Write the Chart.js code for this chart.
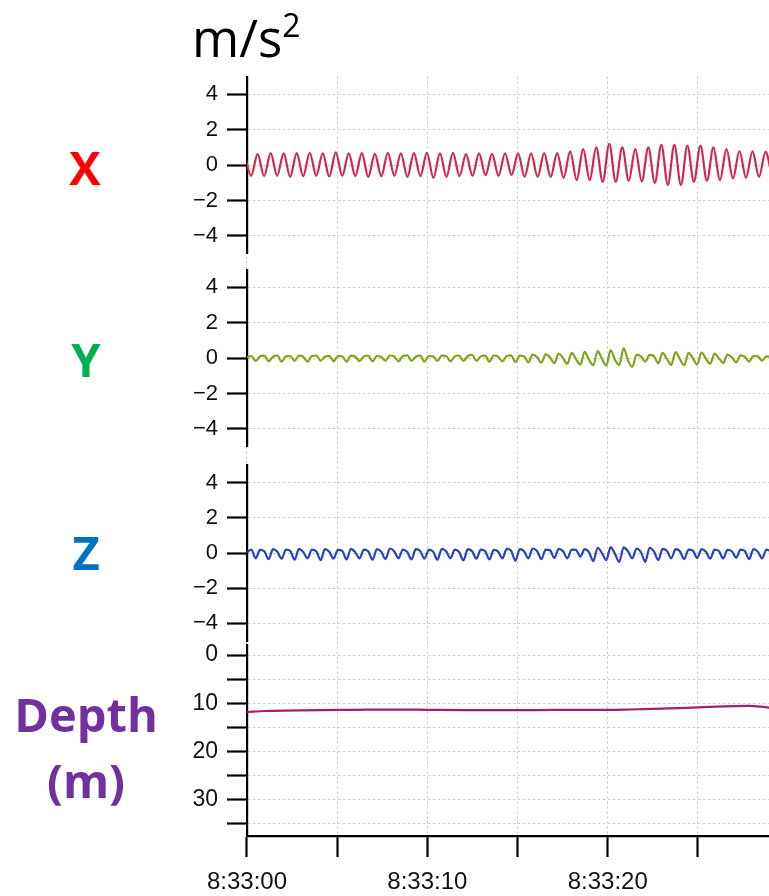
<!DOCTYPE html>
<html>
<head>
<meta charset="utf-8">
<script src="https://cdn.jsdelivr.net/npm/chart.js@4"></script>
<style>
  body { margin: 0; background: #fff; }
  .wrap { position: relative; width: 769px; height: 896px; overflow: hidden; background: #fff; }
  .chart-box { position: absolute; left: 0; top: 0; width: 769px; height: 896px; }
  .label { position: absolute; transform: translate(-50%, -50%); font-family: "Open Sans", "Noto Sans", sans-serif; font-weight: 700; font-size: 47px; line-height: 1; white-space: nowrap; }
  .unit { position: absolute; left: 192px; top: 12px; font-family: "Open Sans", "Noto Sans", sans-serif; font-size: 51px; line-height: 1; color: #000; }
  .unit sup { font-size: 32px; vertical-align: 20px; line-height: 0; }
</style>
</head>
<body>
<div class="wrap">
  <div class="chart-box"><canvas id="myChart"></canvas></div>
  <div class="unit">m/s<sup>2</sup></div>
  <div class="label" style="left:85px;top:167px;color:#ff0000">X</div>
  <div class="label" style="left:86px;top:359px;color:#00b050">Y</div>
  <div class="label" style="left:86px;top:552px;color:#0070c0">Z</div>
  <div class="label" style="left:86px;top:714px;color:#7030a0">Depth</div>
  <div class="label" style="left:86px;top:780px;color:#7030a0">(m)</div>
</div>
<script>
// seconds after 8:33:00
const timeTicks = [0, 5, 10, 15, 20, 25];
const timeLabels = ['8:33:00', '', '8:33:10', '', '8:33:20', ''];
const accTicks = [-4, -2, 0, 2, 4];
const accTickLabels = ['\u22124', '\u22122', '0', '2', '4'];
const depthTicks = [0, 5, 10, 15, 20, 25, 30, 35];
const depthTickLabels = ['0', '', '10', '', '20', '', '30', ''];

// X axis sway: crest / trough every half cycle
const xStart = -0.133;
const xStep = 0.361;
const xAcc = [
    0.60, -0.60, 0.62, -0.62, 0.68, -0.60, 0.66, -0.66, 0.68, -0.62,
    0.70, -0.60, 0.66, -0.64, 0.72, -0.60, 0.66, -0.62, 0.68, -0.66,
    0.64, -0.62, 0.70, -0.60, 0.66, -0.66, 0.68, -0.62, 0.70, -0.72,
    0.66, -0.66, 0.70, -0.62, 0.62, -0.60, 0.66, -0.56, 0.64, -0.60,
    0.66, -0.56, 0.66, -0.66, 0.66, -0.66, 0.68, -0.66, 0.68, -0.72,
    0.78, -0.85, 0.90, -0.85, 1.00, -0.94, 1.20, -0.94, 1.00, -0.88,
    0.90, -0.92, 1.00, -1.00, 1.15, -1.12, 1.15, -1.12, 1.10, -0.94,
    1.10, -0.88, 1.00, -0.85, 0.90, -0.75, 0.80, -0.72, 0.78, -0.66,
    0.75, -0.66
];

// Y and Z read every 0.24 s
const yzStep = 0.24;
const yAcc = [
    0.05, 0.12, -0.15, 0.10, 0.14, -0.18, 0.08, 0.15, -0.20,
    0.10, 0.12, -0.16, 0.14, 0.08, -0.20, 0.12, 0.15, -0.14,
    0.08, 0.13, -0.18, 0.12, 0.10, -0.20, 0.14, 0.08, -0.16,
    0.10, 0.14, -0.18, 0.12, 0.06, -0.14, 0.15, 0.10, -0.18,
    0.12, 0.16, -0.15, 0.08, 0.14, -0.20, 0.12, 0.10, -0.16,
    0.14, 0.12, -0.18, 0.10, 0.15, -0.16, 0.12, 0.18, -0.15,
    0.10, 0.14, -0.20, 0.15, 0.08, -0.18, 0.12, 0.16, -0.22,
    0.14, 0.10, -0.24, 0.20, 0.06, -0.26, 0.22, 0.05, -0.28,
    0.26, 0.00, -0.32, 0.30, -0.05, -0.36, 0.36, -0.10, -0.40,
    0.40, -0.05, -0.42, 0.46, -0.10, -0.38, 0.56, -0.12, -0.50,
    0.20, 0.10, -0.20, 0.18, 0.12, -0.30, 0.30, -0.05, -0.38,
    0.34, -0.05, -0.40, 0.30, 0.00, -0.36, 0.32, -0.02, -0.32,
    0.26, 0.00, -0.28, 0.20, 0.05, -0.24, 0.16, 0.08, -0.20,
    0.12, 0.10, -0.14, 0.10, 0.08
];
const zAcc = [
    0.05, 0.20, -0.30, 0.18, 0.10, -0.35, 0.22, 0.08, -0.32,
    0.20, 0.12, -0.38, 0.24, 0.06, -0.30, 0.20, 0.10, -0.40,
    0.22, 0.08, -0.32, 0.18, 0.12, -0.36, 0.24, 0.05, -0.30,
    0.20, 0.10, -0.38, 0.22, 0.08, -0.34, 0.26, 0.10, -0.30,
    0.20, 0.06, -0.36, 0.22, 0.12, -0.32, 0.18, 0.08, -0.38,
    0.24, 0.10, -0.30, 0.20, 0.06, -0.42, 0.22, 0.10, -0.32,
    0.20, 0.12, -0.36, 0.18, 0.08, -0.30, 0.24, 0.14, -0.44,
    0.22, 0.10, -0.30, 0.26, 0.12, -0.34, 0.20, 0.16, -0.28,
    0.24, 0.10, -0.30, 0.20, 0.18, -0.20, 0.22, 0.05, -0.46,
    0.30, 0.00, -0.40, 0.34, -0.05, -0.50, 0.32, 0.10, -0.30,
    0.26, 0.05, -0.50, 0.30, 0.10, -0.40, 0.24, 0.12, -0.30,
    0.22, 0.10, -0.34, 0.20, 0.14, -0.28, 0.22, 0.08, -0.32,
    0.20, 0.12, -0.30, 0.18, 0.10, -0.26, 0.20, 0.12, -0.34,
    0.22, 0.08, -0.30, 0.20, 0.10
];

const depthTimes = [0, 1, 2, 4, 6, 8, 10, 12, 14, 16, 18, 20, 21, 22, 23, 24, 25, 26, 27, 27.8, 28.5, 29];
const depthM = [11.8, 11.6, 11.5, 11.4, 11.35, 11.3, 11.35, 11.4, 11.4, 11.4, 11.35, 11.35, 11.3, 11.2, 11.1, 11.0, 10.85, 10.7, 10.6, 10.55, 10.7, 10.9];

const tickFont = 'Liberation Sans, Arial, sans-serif';

function panelScale(weight, min, max, ticks, labels, fontSize, reverse) {
    return {
        type: 'linear',
        position: 'left',
        stack: 'panels',
        stackWeight: weight,
        min: min,
        max: max,
        reverse: !!reverse,
        afterBuildTicks: s => { s.ticks = ticks.map(v => ({ value: v })); },
        afterFit: s => { s.width = 247; },
        grid: { color: '#c4c4c4', lineWidth: 1, tickLength: 20, tickColor: '#000', tickWidth: 2.2 },
        border: { display: true, color: '#000', width: 2.2, dash: [2, 3] },
        ticks: {
            autoSkip: false,
            padding: 9,
            color: '#111',
            font: { family: tickFont, size: fontSize },
            callback: (v, i) => labels[i]
        }
    };
}

function gapScale(weight) {
    return {
        type: 'linear', position: 'left', stack: 'panels', stackWeight: weight,
        min: 0, max: 1,
        grid: { display: false, drawTicks: false },
        border: { display: false },
        ticks: { display: false }
    };
}

function line(data, color, axis) {
    return {
        data: data, yAxisID: axis, borderColor: color, borderWidth: 2.2,
        pointRadius: 0, cubicInterpolationMode: 'monotone', fill: false
    };
}

var ctx = document.getElementById('myChart').getContext('2d');
var myChart = new Chart(ctx, {
    type: 'line',
    data: {
        datasets: [
            line(xAcc.map((v, i) => ({ x: xStart + i * xStep, y: v })), '#d0284a', 'yX'),
            line(yAcc.map((v, i) => ({ x: i * yzStep, y: v })), '#80a51c', 'yY'),
            line(zAcc.map((v, i) => ({ x: i * yzStep, y: v })), '#2a42c2', 'yZ'),
            line(depthM.map((v, i) => ({ x: depthTimes[i], y: v })), '#a3206f', 'yDepth')
        ]
    },
    options: {
        responsive: true,
        maintainAspectRatio: false,
        animation: false,
        layout: { padding: { top: 76.6, left: 0, right: 0, bottom: 0 } },
        plugins: { legend: { display: false }, tooltip: { enabled: false } },
        scales: {
            x: {
                type: 'linear',
                min: 0,
                max: 28.94,
                afterBuildTicks: s => { s.ticks = timeTicks.map(v => ({ value: v })); },
                afterFit: s => { s.height = 60; },
                grid: { color: '#c4c4c4', lineWidth: 1, tickLength: 21, tickColor: '#000', tickWidth: 2.2 },
                border: { display: true, color: '#000', width: 2.2, dash: [2, 3] },
                ticks: {
                    autoSkip: false, maxRotation: 0, padding: 11,
                    color: '#111',
                    font: { family: tickFont, size: 24 },
                    callback: (v, i) => timeLabels[i]
                }
            },
            yDepth: panelScale(190.6, -2, 37.5, depthTicks, depthTickLabels, 23, true),
            gap3: gapScale(4.4),
            yZ: panelScale(175.9, -5, 5, accTicks, accTickLabels, 22),
            gap2: gapScale(18.4),
            yY: panelScale(177.1, -5, 5, accTicks, accTickLabels, 22),
            gap1: gapScale(15.9),
            yX: panelScale(177.1, -5, 5, accTicks, accTickLabels, 22)
        }
    }
});
</script>
</body>
</html>
